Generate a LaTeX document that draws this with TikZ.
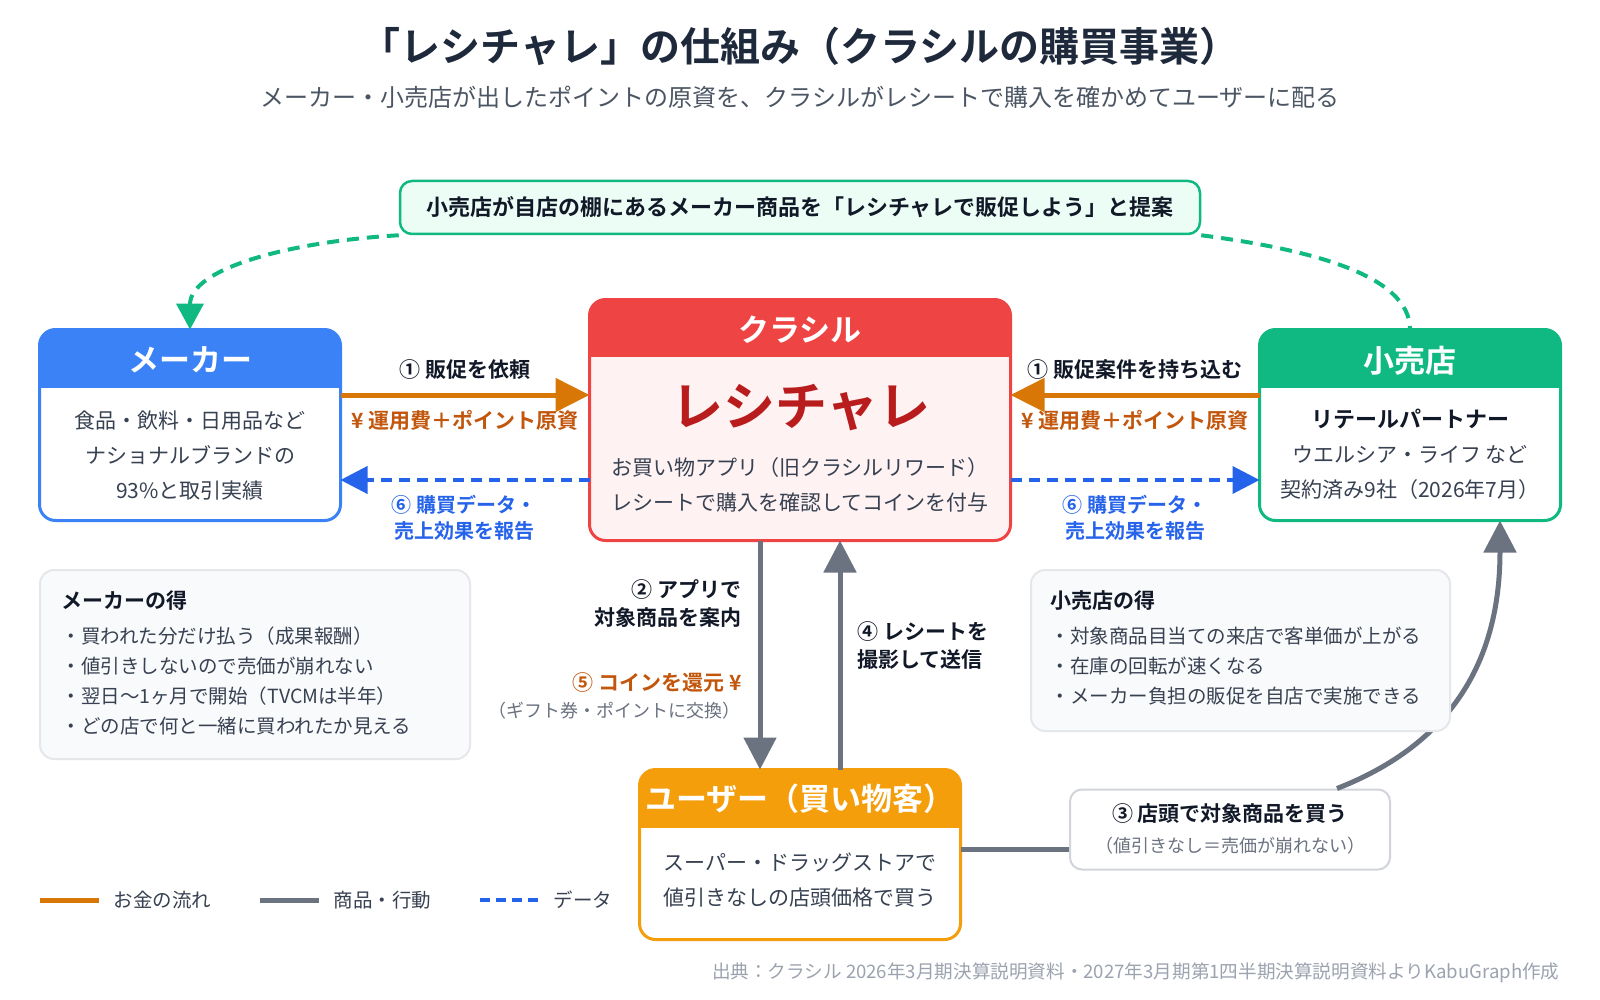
\documentclass[tikz,border=0pt]{standalone}
\usepackage{fontspec}
\setmainfont{Noto Sans CJK JP}[BoldFont={* Bold}]
\usetikzlibrary{arrows.meta}

\definecolor{makerblue}{RGB}{59,130,246}
\definecolor{kurared}{RGB}{239,68,68}
\definecolor{kurapink}{RGB}{254,242,242}
\definecolor{recired}{RGB}{185,28,28}
\definecolor{retailgreen}{RGB}{16,185,129}
\definecolor{pitchgreen}{RGB}{16,185,129}
\definecolor{mint}{RGB}{236,253,245}
\definecolor{userorange}{RGB}{245,158,11}
\definecolor{moneyline}{RGB}{217,119,6}
\definecolor{moneytext}{RGB}{194,86,12}
\definecolor{dataline}{RGB}{37,99,235}
\definecolor{goodsline}{RGB}{107,114,128}
\definecolor{inkdark}{RGB}{17,24,39}
\definecolor{inktitle}{RGB}{30,41,59}
\definecolor{inksub}{RGB}{75,85,99}
\definecolor{inkbody}{RGB}{55,65,81}
\definecolor{inksoft}{RGB}{107,114,128}
\definecolor{inkfoot}{RGB}{156,163,175}
\definecolor{panelfill}{RGB}{249,250,251}
\definecolor{panelline}{RGB}{229,231,235}
\definecolor{buyline}{RGB}{209,213,219}

\newcommand{\pxfont}[1]{\fontsize{#1}{#1}\selectfont}
\newcommand{\pxlfont}[2]{\fontsize{#1}{#2}\selectfont}

\tikzset{every picture/.style={line width=1pt}}
\tikzset{
  card/.style={fill=#1, rounded corners=16pt, minimum width=300pt, minimum height=190pt, inner sep=0pt},
  headtext/.style={text=white, font=\bfseries\pxfont{31}},
  bodytext/.style={text=inkbody, align=center, font=\pxlfont{21}{35}},
  flowlabel/.style={font=\bfseries\pxfont{21}, text=inkdark},
  moneylabel/.style={font=\bfseries\pxfont{21}, text=moneytext},
  datalabel/.style={font=\bfseries\pxlfont{20}{26}, text=dataline, align=center},
  moneyflow/.style={draw=moneyline, line width=5pt, -{Triangle[length=34pt,width=33pt]}},
  goodsflow/.style={draw=goodsline, line width=5pt, -{Triangle[length=32pt,width=32pt]}},
  dataflow/.style={draw=dataline, line width=4pt, dash pattern=on 11pt off 7pt, -{Triangle[length=27pt,width=27pt]}},
  pitchflow/.style={draw=pitchgreen, line width=4pt, dash pattern=on 12pt off 8pt},
  panel/.style={draw=panelline, fill=panelfill, line width=2pt, rounded corners=14pt},
}

\begin{document}
\begin{tikzpicture}[x=1pt,y=1pt,yscale=-1,xscale=1]
\useasboundingbox (0,0) rectangle (1600,1000);
\fill[white] (0,0) rectangle (1600,1000);

% Title
\node[font=\bfseries\pxfont{40}, text=inktitle] (title) at (800,46) {「レシチャレ」の仕組み（クラシルの購買事業）};
\node[font=\pxfont{24}, text=inksub] (subtitle) at (800,97) {メーカー・小売店が出したポイントの原資を、クラシルがレシートで購入を確かめてユーザーに配る};

% Proposal box
\node[draw=pitchgreen, fill=mint, line width=2.5pt, rounded corners=12pt, minimum width=800pt, minimum height=53pt, font=\bfseries\pxfont{22}, text=inkdark] (pitch) at (800,207.5) {小売店が自店の棚にあるメーカー商品を「レシチャレで販促しよう」と提案};

% Rows and columns of the connectors
\coordinate (moneyrow) at (0,395);
\coordinate (datarow) at (0,480);
\coordinate (shoprow) at (0,849);
\coordinate (appcol) at (760,0);
\coordinate (snapcol) at (840,0);
\coordinate (buycol) at (1337,0);
\coordinate (shopcol) at (1500,0);

% Cards
\node[card=white] (maker) at (190,425) {};
\node[card=kurapink, minimum width=420pt, minimum height=240pt] (kura) at (800,420) {};
\node[card=white] (retail) at (1410,425) {};
\node[card=white, minimum width=320pt, minimum height=169pt] (user) at (800,854.5) {};
\node[draw=buyline, fill=white, line width=2pt, rounded corners=12pt, minimum width=320pt, minimum height=80pt] (buy) at (1230,829.5) {};

% Shop to retail curve (behind the panel)
\draw[goodsflow] (buy.north -| buycol) .. controls +(115,-45) and +(0,140) .. (retail.south -| shopcol);

% Gain panels
\node[panel, minimum width=430pt, minimum height=189pt] (makergain) at (255,664.5) {};
\node[panel, minimum width=419pt, minimum height=161pt] (retailgain) at (1240.5,650.5) {};

% Card headers
\foreach \who/\tint/\hy in {maker/makerblue/388,kura/kurared/357,retail/retailgreen/388,user/userorange/828}{
  \begin{scope}
    \clip[rounded corners=16pt] (\who.north west) rectangle (\who.south east);
    \fill[\tint] (\who.north west) rectangle (\who.east |- 0,\hy);
  \end{scope}
  \draw[\tint, line width=3pt, rounded corners=16pt] (\who.north west) rectangle (\who.south east);
}

% Card texts
\node[headtext] (makerhead) at (190,360) {メーカー};
\node[headtext] (kurahead) at (800,330) {クラシル};
\node[headtext] (retailhead) at (1410,361) {小売店};
\node[headtext] (userhead) at (800,799) {ユーザー（買い物客）};
\node[bodytext] (makerbody) at (190,456) {食品・飲料・日用品など\\ナショナルブランドの\\93\%と取引実績};
\node[font=\bfseries\pxfont{52}, text=recired] (recichalle) at (801,408) {レシチャレ};
\node[bodytext] (kurabody) at (800,484.5) {お買い物アプリ（旧クラシルリワード）\\レシートで購入を確認してコインを付与};
\node[font=\bfseries\pxfont{22}, text=inkdark] (partner) at (1410,419) {リテールパートナー};
\node[bodytext] (retailbody) at (1410,472.5) {ウエルシア・ライフ など\\契約済み9社（2026年7月）};
\node[bodytext] (userbody) at (800,880.5) {スーパー・ドラッグストアで\\値引きなしの店頭価格で買う};
\node[font=\bfseries\pxfont{21}, text=inkdark] (buytitle) at (1230,814) {③ 店頭で対象商品を買う};
\node[font=\pxfont{18}, text=inksoft] (buynote) at (1230,846) {（値引きなし＝売価が崩れない）};

% Gain texts
\node[font=\bfseries\pxfont{21}, text=inkdark, anchor=west, inner sep=0pt] (makergaintitle) at (61,601) {メーカーの得};
\node[font=\pxlfont{19.5}{30}, text=inkbody, anchor=west, align=left, inner sep=0pt] (makergainlist) at (61,681) {・買われた分だけ払う（成果報酬）\\・値引きしないので売価が崩れない\\・翌日〜1ヶ月で開始（TVCMは半年）\\・どの店で何と一緒に買われたか見える};
\node[font=\bfseries\pxfont{21}, text=inkdark, anchor=west, inner sep=0pt] (retailgaintitle) at (1050,601) {小売店の得};
\node[font=\pxlfont{19.5}{30}, text=inkbody, anchor=west, align=left, inner sep=0pt] (retailgainlist) at (1050,666) {・対象商品目当ての来店で客単価が上がる\\・在庫の回転が速くなる\\・メーカー負担の販促を自店で実施できる};

% Proposal arrows
\draw[pitchflow, -{Triangle[length=26pt,width=27pt]}] (pitch.south west) .. controls +(-105,6) and +(0,-62) .. (maker.north);
\draw[pitchflow] (pitch.south east) .. controls +(107,14) and +(0,-55) .. (retail.north);

% Money and data
\draw[moneyflow] (maker.east |- moneyrow) -- (kura.west |- moneyrow);
\draw[moneyflow] (retail.west |- moneyrow) -- (kura.east |- moneyrow);
\draw[dataflow] (kura.west |- datarow) -- (maker.east |- datarow);
\draw[dataflow] (kura.east |- datarow) -- (retail.west |- datarow);

% App and receipt
\draw[goodsflow] (kura.south -| appcol) -- (user.north -| appcol);
\draw[goodsflow] (user.north -| snapcol) -- (kura.south -| snapcol);
\draw[goodsflow, -] (user.east |- shoprow) -- (buy.west |- shoprow);

% Flow labels
\node[flowlabel] (askmaker) at (465,370) {① 販促を依頼};
\node[moneylabel] (feemaker) at (465,420) {¥ 運用費＋ポイント原資};
\node[flowlabel] (askretail) at (1135,370) {① 販促案件を持ち込む};
\node[moneylabel] (feeretail) at (1135,420) {¥ 運用費＋ポイント原資};
\node[datalabel] (reportmaker) at (464,518) {⑥ 購買データ・\\売上効果を報告};
\node[datalabel] (reportretail) at (1135,518) {⑥ 購買データ・\\売上効果を報告};
\node[flowlabel, font=\bfseries\pxlfont{21}{28}, anchor=east, align=right, inner sep=0pt] (guide) at (742,604) {② アプリで\\対象商品を案内};
\node[moneylabel, anchor=east, inner sep=0pt] (coin) at (742,683) {⑤ コインを還元 ¥};
\node[font=\pxfont{18}, text=inksoft, anchor=east, inner sep=0pt] (coinnote) at (741,711) {（ギフト券・ポイントに交換）};
\node[flowlabel, font=\bfseries\pxlfont{21}{28}, anchor=west, align=left, inner sep=0pt] (snap) at (857,646) {④ レシートを\\撮影して送信};

% Legend
\draw[moneyline, line width=5pt] (40,900) -- (99,900);
\node[font=\pxfont{19.5}, text=inkbody, anchor=west, inner sep=0pt] (moneykey) at (113,900) {お金の流れ};
\draw[goodsline, line width=5pt] (260,900) -- (319,900);
\node[font=\pxfont{19.5}, text=inkbody, anchor=west, inner sep=0pt] (goodskey) at (333,900) {商品・行動};
\draw[dataline, line width=4pt, dash pattern=on 10pt off 6pt] (480,900) -- (539,900);
\node[font=\pxfont{19.5}, text=inkbody, anchor=west, inner sep=0pt] (datakey) at (553,900) {データ};

% Source
\node[font=\pxfont{18.6}, text=inkfoot, anchor=east, inner sep=0pt] (source) at (1560,973) {出典：クラシル 2026年3月期決算説明資料・2027年3月期第1四半期決算説明資料よりKabuGraph作成};

\end{tikzpicture}
\end{document}
